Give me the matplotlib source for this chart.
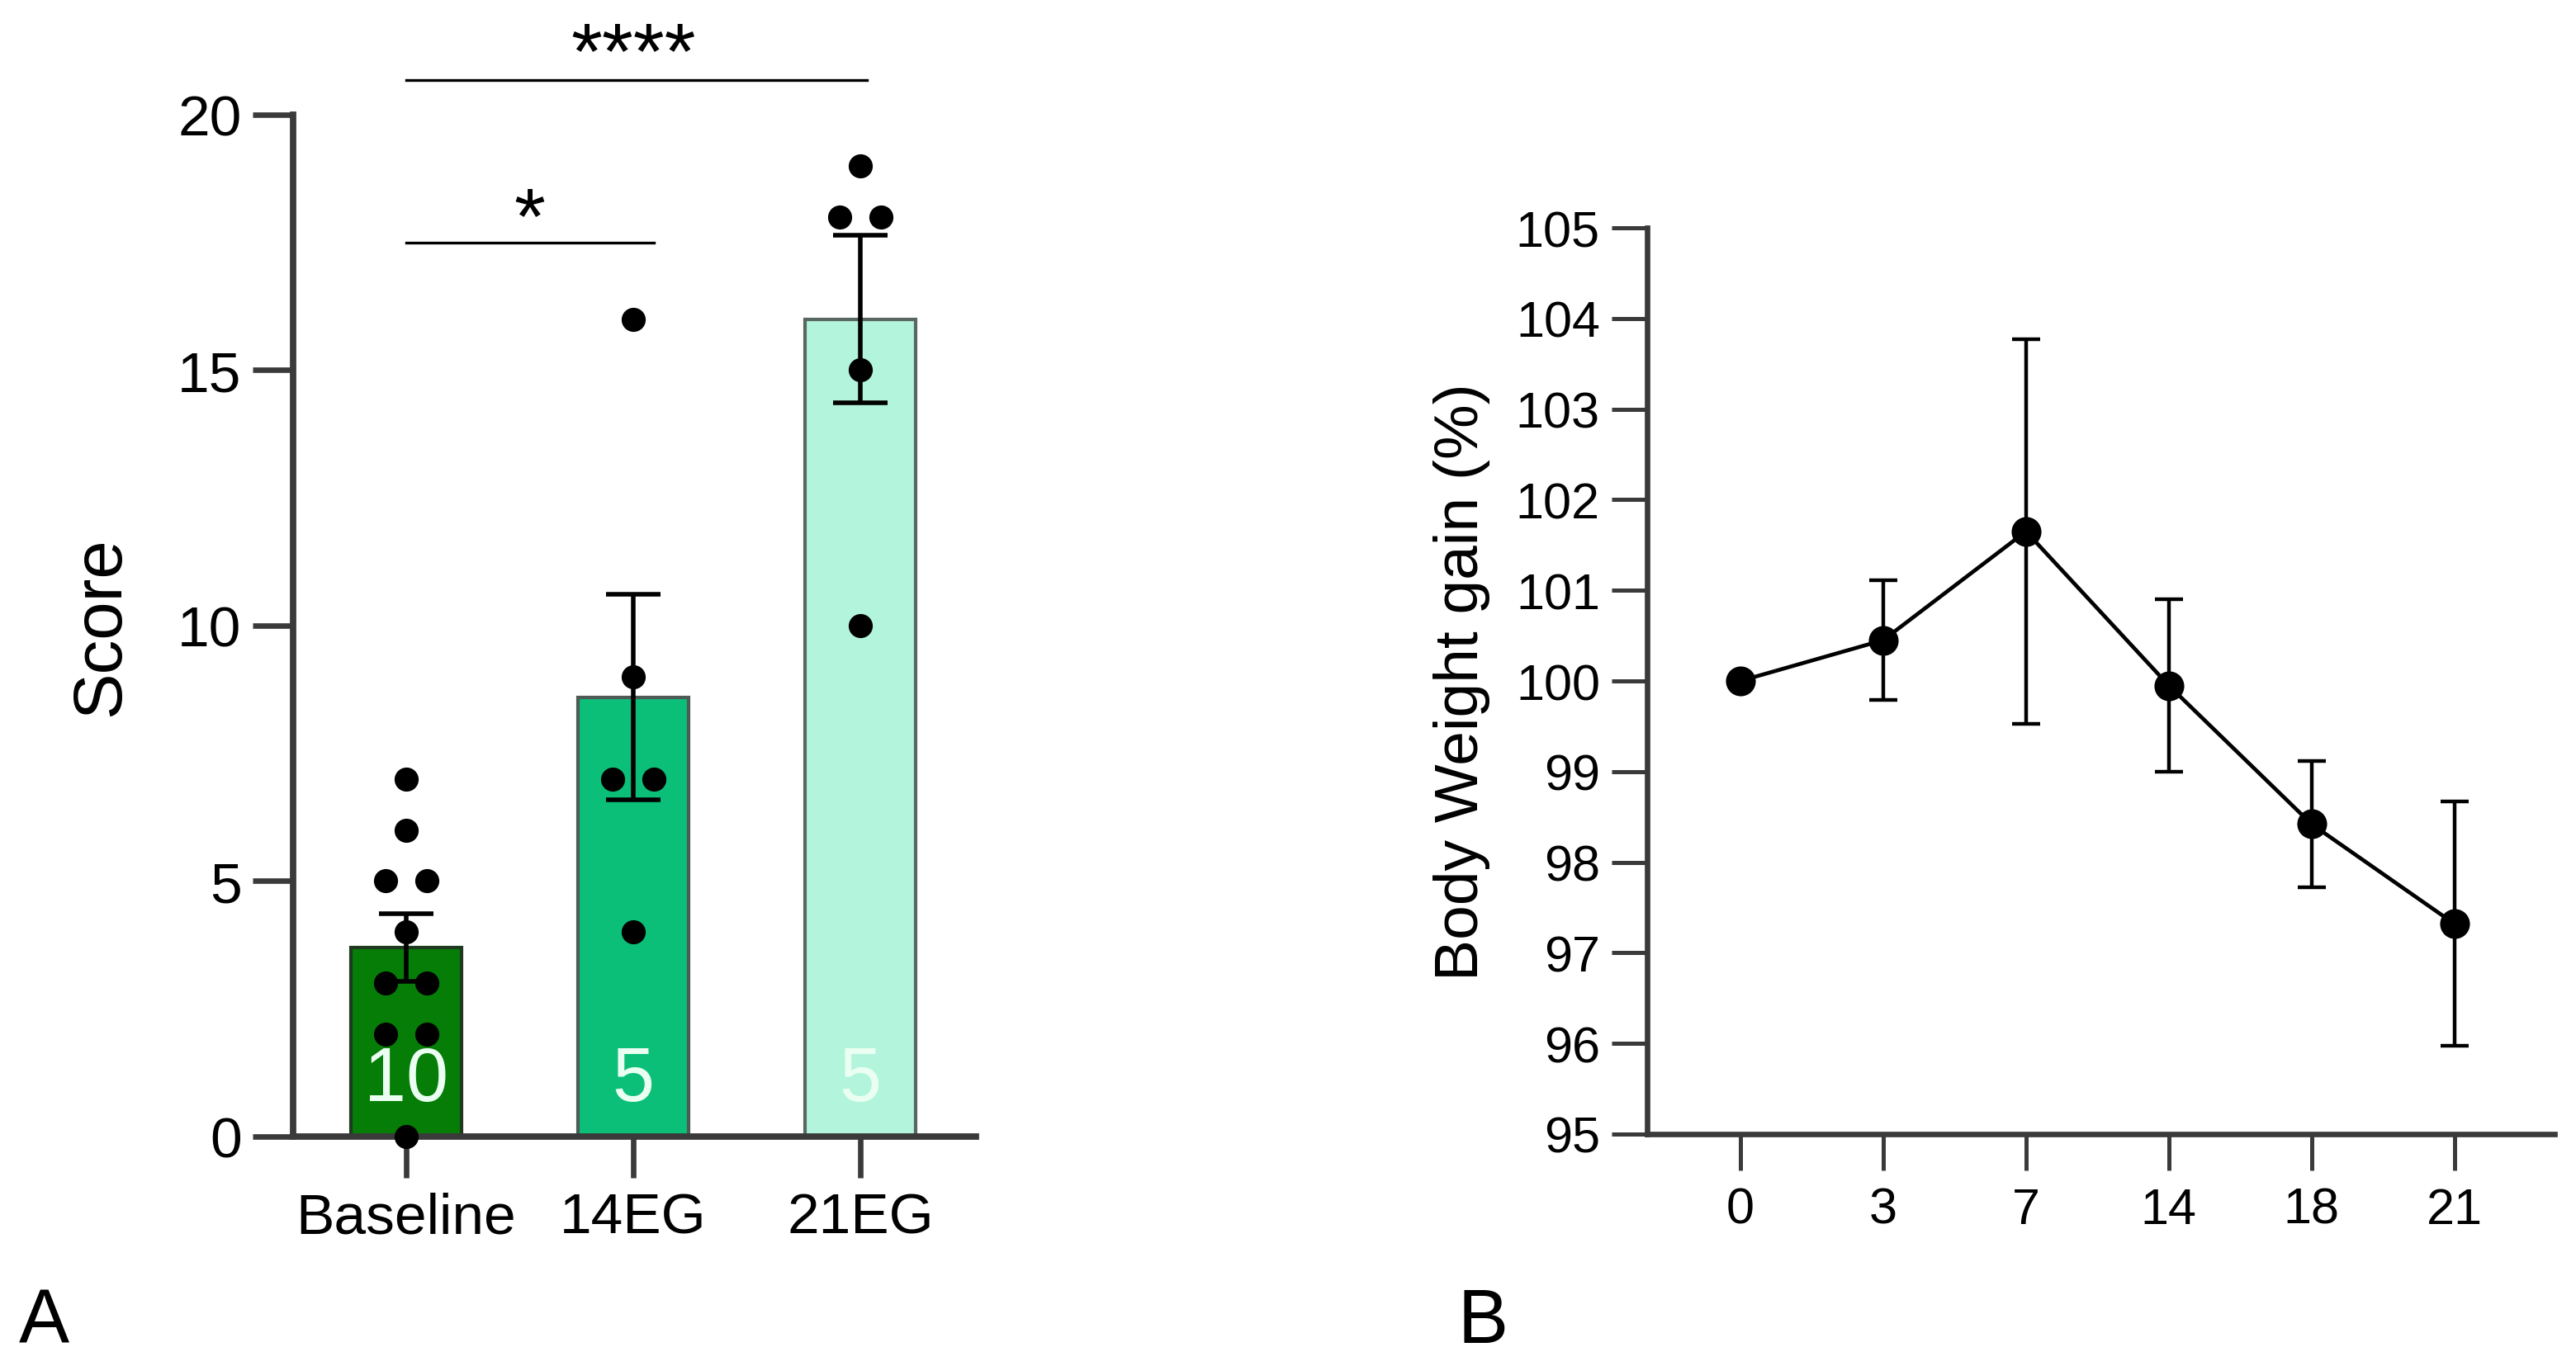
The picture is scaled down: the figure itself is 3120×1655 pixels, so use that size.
import numpy as np
import matplotlib
matplotlib.use('Agg')
from matplotlib import pyplot as plt

plt.rcParams['font.family'] = ['Liberation Sans', 'DejaVu Sans']

# данные панели A
groups = ['Baseline', '14EG', '21EG']
baseline_pts = [7, 6, 5, 5, 4, 3, 3, 2, 2, 0]
eg14_pts = [16, 9, 7, 7, 4]
eg21_pts = [19, 18, 18, 15, 10]
bar_colors = ['#067d06', '#0bbf79', '#b3f4dc']
edge_colors = ['#1f3a1f', '#4d5a55', '#5a6662']

# данные панели B
days = ['0', '3', '7', '14', '18', '21']
bw_mean = [100.0, 100.45, 101.65, 99.95, 98.42, 97.32]
bw_err = [0.0, 0.66, 2.12, 0.95, 0.70, 1.35]

axis_col = '#3a3a3a'
fig = plt.figure(figsize=(15.6, 8.28), dpi=200)

# ---- панель A
ax = fig.add_axes([0.1138, 0.1679, 0.265, 0.7476])
all_pts = [baseline_pts, eg14_pts, eg21_pts]
for i, pts in enumerate(all_pts):
    pts = np.array(pts, dtype=float)
    m = pts.mean()
    sem = pts.std(ddof=1) / np.sqrt(len(pts))
    ax.bar(i, m, width=0.49, color=bar_colors[i], edgecolor=edge_colors[i], linewidth=1.5, zorder=1)
    ax.errorbar(i, m, yerr=sem, color='black', capsize=12, capthick=2, elinewidth=2, zorder=3)
    # разброс точек с одинаковыми значениями
    xs = np.full(len(pts), float(i))
    for v in np.unique(pts):
        idx = np.where(pts == v)[0]
        if len(idx) == 2:
            xs[idx[0]] -= 0.092
            xs[idx[1]] += 0.092
    ax.plot(xs, pts, 'o', color='black', markersize=9.5, zorder=4, clip_on=False)
    ax.text(i, 1.1, str(len(pts)), ha='center', va='center', color='#eafff2', fontsize=33, zorder=2)

ax.set_xlim(-0.498, 2.509)
ax.set_ylim(0, 20)
ax.set_yticks([0, 5, 10, 15, 20])
ax.set_xticks(range(3))
ax.set_xticklabels(groups)
for s in ['top', 'right']:
    ax.spines[s].set_visible(False)
for s in ['left', 'bottom']:
    ax.spines[s].set_linewidth(2.8)
    ax.spines[s].set_color(axis_col)
ax.tick_params(axis='y', length=17.5, width=2.4, color=axis_col, labelsize=25, pad=5)
ax.tick_params(axis='x', length=18, width=2.4, color=axis_col, labelsize=25, pad=6)
ax.set_ylabel('Score', fontsize=30)
ax.yaxis.set_label_coords(-0.234, 0.5)

# линии значимости
ax.plot([0, 1.09], [17.5, 17.5], color='black', linewidth=1.2, clip_on=False)
ax.text(0.545, 17.5, '*', ha='center', va='baseline', fontsize=35)
ax.plot([0, 2.03], [20.68, 20.68], color='black', linewidth=1.2, clip_on=False)
ax.text(1.0, 20.72, '****', ha='center', va='baseline', fontsize=35)

# ---- панель B
bx = fig.add_axes([0.6394, 0.1697, 0.3522, 0.663])
xpos = np.arange(len(days))
bx.errorbar(xpos[1:], bw_mean[1:], yerr=bw_err[1:], fmt='none', ecolor='black',
            capsize=6, capthick=1.6, elinewidth=1.6, zorder=2)
bx.plot(xpos, bw_mean, '-o', color='black', linewidth=1.7, markersize=12, zorder=3)
bx.set_xlim(-0.653, 5.70)
bx.set_ylim(95, 105)
bx.set_yticks(range(95, 106))
bx.set_xticks(xpos)
bx.set_xticklabels(days)
for s in ['top', 'right']:
    bx.spines[s].set_visible(False)
for s in ['left', 'bottom']:
    bx.spines[s].set_linewidth(2.4)
    bx.spines[s].set_color(axis_col)
bx.tick_params(axis='y', length=15.5, width=1.8, color=axis_col, labelsize=22, pad=5)
bx.tick_params(axis='x', length=16, width=1.8, color=axis_col, labelsize=22, pad=7)
bx.set_ylabel('Body Weight gain (%)', fontsize=27)
bx.yaxis.set_label_coords(-0.173, 0.5)

fig.text(0.0074, 0.0175, 'A', fontsize=33)
fig.text(0.566, 0.0175, 'B', fontsize=33)

plt.savefig('out.png', dpi=200)
